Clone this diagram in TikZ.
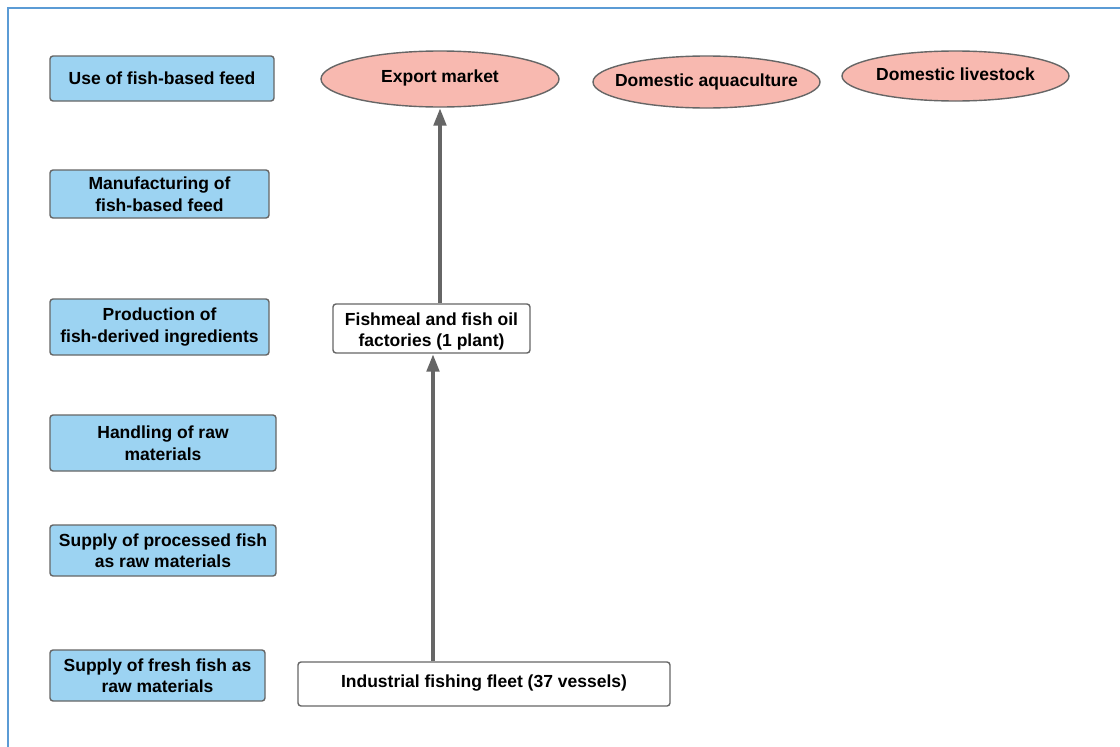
\documentclass[tikz,border=0pt]{standalone}
\usepackage{fontspec}
\setmainfont{Liberation Sans}
\usetikzlibrary{shapes.geometric,arrows.meta}
\definecolor{stageblue}{HTML}{9CD3F2}
\definecolor{marketpink}{HTML}{F8B9B0}
\definecolor{edgegray}{HTML}{666666}
\definecolor{frameblue}{HTML}{5B9BD5}
\tikzset{
  x=1pt, y=-1pt,
  every node/.style={font=\fontsize{17.5}{21.5}\selectfont\bfseries, align=center, inner sep=0pt},
  stage/.style={draw=edgegray, line width=1.4pt, fill=stageblue, rounded corners=3pt},
  actor/.style={draw=edgegray, line width=1.4pt, fill=white, rounded corners=3pt},
  market/.style={ellipse, draw=edgegray, line width=1.4pt, fill=marketpink, inner xsep=-40pt, inner ysep=-10pt},
  flow/.style={draw=edgegray, line width=4.5pt, -{Triangle[width=12pt,length=18pt]}},
}
\begin{document}
\begin{tikzpicture}
\useasboundingbox (0,0) rectangle (1120,747);
% frame
\draw[frameblue, line width=1.2pt] (8,747) -- (8,8) -- (1120,8);

% value-chain stages
\node[stage, minimum width=224pt, minimum height=45pt] (use) at (162,78.5) {Use of fish-based feed};
\node[stage, minimum width=219pt, minimum height=48pt] (manu) at (159.5,194) {Manufacturing of\\fish-based feed};
\node[stage, minimum width=219pt, minimum height=56pt] (prod) at (159.5,327) {Production of\\fish-derived ingredients};
\node[stage, minimum width=226pt, minimum height=56pt] (hand) at (163,443) {Handling of raw\\materials};
\node[stage, minimum width=226pt, minimum height=51pt] (proc) at (163,550.5) {Supply of processed fish\\as raw materials};
\node[stage, minimum width=215pt, minimum height=51pt] (fresh) at (157.5,675.5) {Supply of fresh fish as\\raw materials};

% markets
\node[market, minimum width=238pt, minimum height=56pt] (export) at (440,79) {\raisebox{1pt}[\height][\depth]{Export market}};
\node[market, minimum width=227pt, minimum height=52pt] (aqua) at (706.5,82) {Domestic aquaculture};
\node[market, minimum width=227pt, minimum height=50pt] (live) at (955.5,76) {\raisebox{3pt}{Domestic livestock}};

% actors
\node[actor, minimum width=197pt, minimum height=49pt] (factory) at (431.5,328.5) {\raisebox{-3pt}[\height][\depth]{\begin{tabular}{@{}c@{}}Fishmeal and fish oil\\factories (1 plant)\end{tabular}}};
\node[actor, minimum width=372pt, minimum height=44pt] (fleet) at (484,684) {\raisebox{1pt}[\height][\depth]{Industrial fishing fleet (37 vessels)}};

% flows
\draw[flow] ([xshift=1.5pt]fleet.north -| factory.south) -- ([xshift=1.5pt]factory.south);
\draw[flow] (factory.north -| export.south) -- (export.south);
\end{tikzpicture}
\end{document}
